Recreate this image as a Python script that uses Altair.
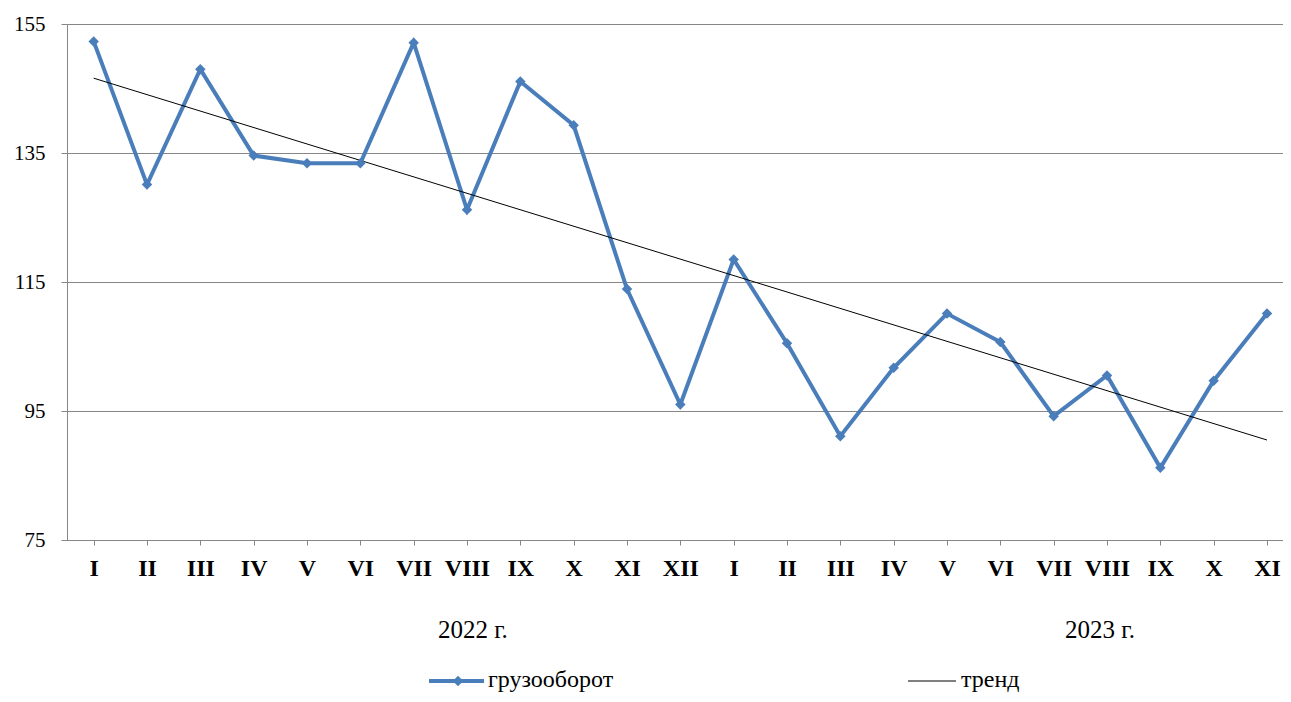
import json
import altair as alt
import pandas as pd

# --- data ---
month_labels = ["I", "II", "III", "IV", "V", "VI", "VII", "VIII", "IX", "X", "XI", "XII",
                "I", "II", "III", "IV", "V", "VI", "VII", "VIII", "IX", "X", "XI"]
cargo_values = [152.3, 130.1, 148.0, 134.6, 133.4, 133.4, 152.1, 126.2, 146.1, 139.3, 113.9, 96.0,
                118.5, 105.5, 91.1, 101.7, 110.1, 105.7, 94.2, 100.5, 86.2, 99.7, 110.1]
trend_index = [0, 22]
trend_values = [146.6, 90.5]
year_labels = ["2022 г.", "2023 г."]
year_pos = [7.11, 18.87]
series_names = ["грузооборот", "тренд"]
y_ticks = [75, 95, 115, 135, 155]

BLUE = "#4A7EBB"
GRID = "#868686"
FONT = "Liberation Serif"

df = pd.DataFrame({"idx": list(range(len(cargo_values))), "value": cargo_values})
trend_df = pd.DataFrame({"idx": trend_index, "value": trend_values})
year_df = pd.DataFrame({"label": year_labels, "pos": year_pos})

label_expr = json.dumps(month_labels) + "[datum.value]"

x_scale = alt.Scale(domain=[-0.5, 22.3], nice=False, zero=False)
y_scale = alt.Scale(domain=[75, 155], nice=False, zero=False)

x_axis = alt.Axis(values=list(range(len(month_labels))), labelExpr=label_expr, title=None,
                  grid=False, domainColor=GRID, tickColor=GRID, tickSize=5,
                  labelFont=FONT, labelFontSize=24, labelFontWeight="bold", labelColor="black",
                  labelBaseline="alphabetic", labelPadding=30, labelOverlap=False)
y_axis = alt.Axis(values=y_ticks, title=None, grid=True, gridColor=GRID, gridWidth=1,
                  domainColor=GRID, tickColor=GRID, tickSize=6,
                  labelFont=FONT, labelFontSize=21, labelColor="black", labelPadding=16,
                  labelBaseline="middle")

base = alt.Chart(df)
line = base.mark_line(color=BLUE, strokeWidth=4).encode(
    x=alt.X("idx:Q", scale=x_scale, axis=x_axis),
    y=alt.Y("value:Q", scale=y_scale, axis=y_axis),
)
points = base.mark_point(shape="diamond", filled=True, size=110, color=BLUE, opacity=1).encode(
    x=alt.X("idx:Q", scale=x_scale),
    y=alt.Y("value:Q", scale=y_scale),
)
trend = alt.Chart(trend_df).mark_line(color="black", strokeWidth=1).encode(
    x=alt.X("idx:Q", scale=x_scale),
    y=alt.Y("value:Q", scale=y_scale),
)
years = alt.Chart(year_df).mark_text(font=FONT, fontSize=25, color="black",
                                     baseline="alphabetic", align="center").encode(
    x=alt.X("pos:Q", scale=x_scale),
    y=alt.value(614),
    text="label:N",
)

# manual legend
leg_df = pd.DataFrame({"name": series_names})
leg1_line = alt.Chart(leg_df).transform_filter(alt.datum.name == series_names[0]).mark_rule(
    color=BLUE, strokeWidth=4).encode(x=alt.value(362), x2=alt.value(417), y=alt.value(657))
leg1_pt = alt.Chart(leg_df).transform_filter(alt.datum.name == series_names[0]).mark_point(
    shape="diamond", filled=True, size=110, color=BLUE, opacity=1).encode(
    x=alt.value(391), y=alt.value(657))
leg1_txt = alt.Chart(leg_df).transform_filter(alt.datum.name == series_names[0]).mark_text(
    font=FONT, fontSize=24, color="black", align="left", baseline="alphabetic").encode(
    x=alt.value(421), y=alt.value(663), text="name:N")
leg2_line = alt.Chart(leg_df).transform_filter(alt.datum.name == series_names[1]).mark_rule(
    color="black", strokeWidth=1).encode(x=alt.value(841), x2=alt.value(889), y=alt.value(657))
leg2_txt = alt.Chart(leg_df).transform_filter(alt.datum.name == series_names[1]).mark_text(
    font=FONT, fontSize=24, color="black", align="left", baseline="alphabetic").encode(
    x=alt.value(894), y=alt.value(663), text="name:N")

chart = alt.layer(line, trend, points, years, leg1_line, leg1_pt, leg1_txt, leg2_line, leg2_txt).properties(
    width=1216, height=516,
    autosize=alt.AutoSizeParams(type="none"),
    padding={"left": 59, "top": 16, "right": 0, "bottom": 154},
).configure_view(stroke=None).configure(background="white")

chart.save("out.html", embed_options={"renderer": "svg", "actions": False})
